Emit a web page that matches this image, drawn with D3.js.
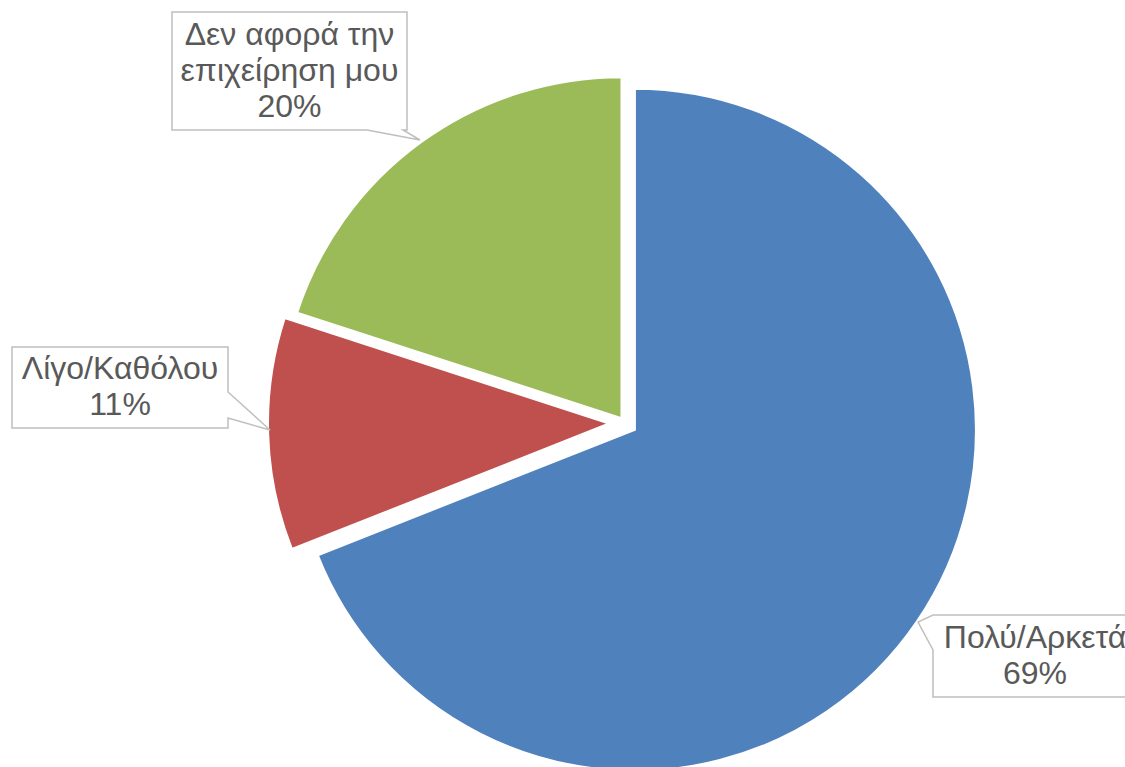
<!DOCTYPE html>
<html>
<head>
<meta charset="utf-8">
<script src="https://cdn.jsdelivr.net/npm/d3@7/dist/d3.min.js"></script>
<style>
  html, body { margin: 0; padding: 0; background: #ffffff; overflow: hidden; }
  svg { display: block; }
</style>
</head>
<body>
<svg id="chart" width="1125" height="767"></svg>
<script>
// ---- data ----
const categories = ["Πολύ/Αρκετά", "Λίγο/Καθόλου", "Δεν αφορά την επιχείρηση μου"];
const values = [69, 11, 20];
const labelLines = [["Πολύ/Αρκετά", "69%"], ["Λίγο/Καθόλου", "11%"], ["Δεν αφορά την", "επιχείρηση μου", "20%"]];
const colors = ["#4f81bd", "#c0504d", "#9bbb59"];

// ---- layout ----
const W = 1125, H = 767;
const cx = 625, cy = 423, R = 341;
const explode = [12, 16, 6];
const fontSize = 32, lineH = 36;
const boxes = [
  {x0: 933, y0: 615, x1: 1137, y1: 697},
  {x0: 12, y0: 347, x1: 228, y1: 428},
  {x0: 172, y0: 12, x1: 407, y1: 130}
];

const svg = d3.select("#chart");
const pie = d3.pie().sort(null).value(d => d.v).startAngle(0).endAngle(2 * Math.PI);
const arcs = pie(values.map((v, i) => ({v, i})));
const arc = d3.arc().innerRadius(0).outerRadius(R);

const g = svg.append("g").attr("transform", `translate(${cx},${cy})`);
g.selectAll("path.slice").data(arcs).enter().append("path")
  .attr("class", "slice")
  .attr("d", arc)
  .attr("fill", d => colors[d.data.i])
  .attr("stroke", "#ffffff")
  .attr("stroke-width", 2)
  .attr("transform", d => {
    const a = (d.startAngle + d.endAngle) / 2;
    const o = explode[d.data.i];
    return `translate(${Math.sin(a) * o},${-Math.cos(a) * o})`;
  });

function calloutPath(i) {
  const b = boxes[i];
  if (i === 0) {
    return `M${b.x0},${b.y0} H${b.x1} V${b.y1} H${b.x0} V${b.y0 + 35} L${b.x0 - 15},${b.y0 + 7} Z`;
  } else if (i === 1) {
    return `M${b.x0},${b.y0} H${b.x1} V${b.y0 + 45} L${b.x1 + 42},${b.y1 + 2} L${b.x1},${b.y1 - 10} V${b.y1} H${b.x0} Z`;
  } else {
    return `M${b.x0},${b.y0} H${b.x1} V${b.y1} H${b.x1 - 4} L${b.x1 + 13},${b.y1 + 10} L${b.x1 - 40},${b.y1} H${b.x0} Z`;
  }
}

const labels = svg.append("g");
arcs.forEach((d, i) => {
  const b = boxes[i];
  labels.append("path")
    .attr("d", calloutPath(i))
    .attr("fill", "#ffffff")
    .attr("stroke", "#bfbfbf")
    .attr("stroke-width", 1.5)
    .attr("stroke-linejoin", "miter");
  const lines = labelLines[i];
  const mx = (b.x0 + b.x1) / 2, my = (b.y0 + b.y1) / 2;
  const capH = fontSize * 0.62;
  lines.forEach((t, k) => {
    labels.append("text")
      .attr("x", mx)
      .attr("y", my + (k - (lines.length - 1) / 2) * lineH + capH / 2)
      .attr("text-anchor", "middle")
      .attr("font-family", "Liberation Sans, Arial, sans-serif")
      .attr("font-size", fontSize)
      .attr("fill", "#595959")
      .text(t);
  });
});
</script>
</body>
</html>
